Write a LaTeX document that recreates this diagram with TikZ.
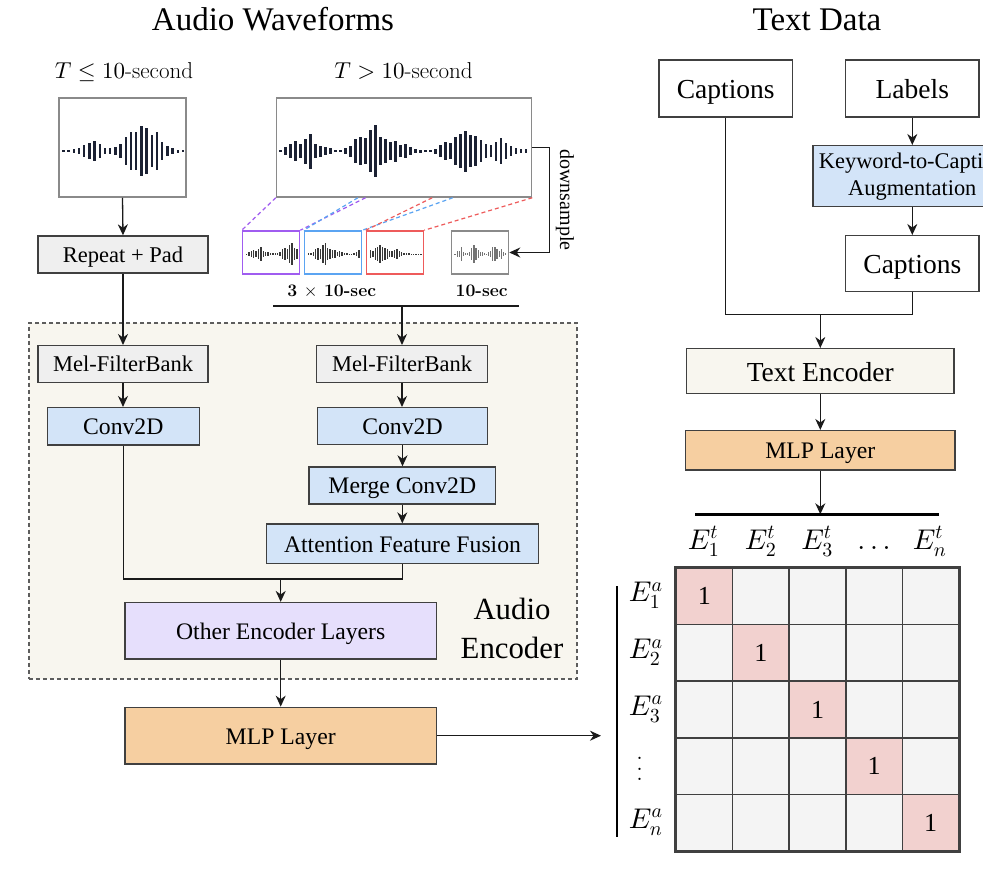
\documentclass[tikz,border=0pt]{standalone}
\usepackage{fontspec}
\newfontfamily\tms{Liberation Serif}
\DeclareFontShape{OML}{cmm}{m}{it}{<-> cmmi10}{}
\DeclareFontShape{OT1}{cmr}{m}{n}{<-> cmr10}{}
\DeclareFontShape{OMS}{cmsy}{m}{n}{<-> cmsy10}{}
\usetikzlibrary{arrows.meta,calc}
\definecolor{bord}{HTML}{404040}
\definecolor{grayfill}{HTML}{EFEFEF}
\definecolor{bluefill}{HTML}{D3E4F8}
\definecolor{lavfill}{HTML}{E6DFFC}
\definecolor{orfill}{HTML}{F6CFA1}
\definecolor{beige}{HTML}{F8F6EF}
\definecolor{wavec}{HTML}{1B2133}
\definecolor{wpurple}{HTML}{A05CF0}
\definecolor{wblue}{HTML}{5BA4F2}
\definecolor{wred}{HTML}{EE5B5B}
\definecolor{wgray}{HTML}{8A8A8A}
\definecolor{cellc}{HTML}{F4F4F4}
\definecolor{diagc}{HTML}{F2D1CF}
\definecolor{linec}{HTML}{1A1A1A}
\newcommand\wavebars[6]{\foreach \hh [count=\ii from 0] in {#6} {\fill ({#1+\ii*#3-#5/2},{#2-\hh*#4}) rectangle ({#1+\ii*#3+#5/2},{#2+\hh*#4});}}
\tikzset{
  bxbase/.style={draw=bord, line width=1.4pt, inner sep=0pt, align=center},
  bx/.style={bxbase, text height=21.3pt, text depth=4.7pt, font=\tms\fontsize{23.7}{28}\selectfont},
  gbx/.style={bxbase, fill=grayfill, text height=20.2pt, text depth=4.5pt, font=\tms\fontsize{22.5}{27}\selectfont},
  blbx/.style={bx, fill=bluefill},
  bigbx/.style={bxbase, text height=25.5pt, text depth=5pt, font=\tms\fontsize{27.5}{32}\selectfont},
  wbox/.style={draw=wgray, line width=1.5pt, inner sep=0pt},
  arr/.style={draw=linec, line width=1.3pt, -{Stealth[length=11pt,width=10pt,inset=3.5pt]}},
  ln/.style={draw=linec, line width=1.3pt},
  dl/.style={line width=1.2pt, dash pattern=on 4pt off 3pt},
  cell/.style={draw=bord, line width=1.5pt, fill=cellc, minimum size=56.6pt, inner sep=0pt, font=\tms\fontsize{26}{30}\selectfont},
  mlab/.style={font=\fontsize{28.5}{32}\selectfont, inner sep=0pt, anchor=base}
}
\begin{document}
\begin{tikzpicture}[x=1pt,y=-1pt]
\useasboundingbox (0,0) rectangle (983,875);
\clip (0,0) rectangle (983,875);
\fill[white] (0,0) rectangle (983,875);

% encoder background
\node[draw=bord!85, fill=beige, line width=1.1pt, dash pattern=on 4pt off 3pt, minimum width=548pt, minimum height=356pt, inner sep=0pt] (enc) at (303,501) {};

% titles
\node[font=\tms\fontsize{33}{38}\selectfont, anchor=base] (t1) at (273,30.7) {Audio Waveforms};
\node[font=\tms\fontsize{33}{38}\selectfont, anchor=base] (t2) at (817,30.7) {Text Data};
\node[font=\fontsize{23}{27}\selectfont, anchor=base] (tl) at (124,78) {$T\leq 10$-second};
\node[font=\fontsize{23}{27}\selectfont, anchor=base] (tr) at (403.5,78) {$T> 10$-second};

% waveform boxes
\node[wbox, minimum width=127pt, minimum height=99pt] (wl) at (122.5,147.5) {};
\node[wbox, minimum width=255pt, minimum height=99pt] (wb) at (404,147.5) {};
\begin{scope}[fill=wavec]
\wavebars{63.3}{151}{5.2}{1}{2.4}{1,1.2,2,3.3,6.3,7.7,10.3,7.3,3.3,2.7,4,6.7,14,18.7,19,25.3,23,16.3,19,8.7,5.3,3,1.5,1}
\wavebars{280.3}{151}{5.01}{1}{2.4}{1,3.7,7,10,7,12.5,17.5,7,5.5,3.8,3,1.2,1.2,2.7,5.5,11.7,13.7,13,20.7,25.8,14,11.7,8.7,10.5,5.8,7,3.8,2,1.5,1,1,2.5,5.7,8.7,8,13.7,17,20.5,16,15,11,7.2,6.2,9.5,12.8,7.8,4.7,2.8,2.2,1.7}
\end{scope}

% small windows
\node[wbox, draw=wpurple, minimum width=57pt, minimum height=43pt] (sp) at (271,252.5) {};
\node[wbox, draw=wblue, minimum width=57pt, minimum height=43pt] (sb) at (333,252.5) {};
\node[wbox, draw=wred, minimum width=57pt, minimum height=43pt] (sr) at (395,252.5) {};
\node[wbox, draw=wgray, minimum width=57pt, minimum height=43pt] (sg) at (480,252.5) {};
\begin{scope}[fill=black!78]
\wavebars{246.5}{254}{2.4}{0.42}{1.3}{1,3.7,7,10,7,12.5,17.5,7,5.5,3.8,3,1.2,1.2,2.7,5.5,11.7,13.7,13,20.7,25.8,14,11.7}
\wavebars{308.5}{254}{2.4}{0.42}{1.3}{1.2,2.7,5.5,11.7,13.7,13,20.7,25.8,14,11.7,8.7,10.5,5.8,7,3.8,2,1.5,1,1,2.5,5.7,8.7}
\wavebars{370.5}{254}{2.4}{0.42}{1.3}{8.7,8,13.7,17,20.5,16,15,11,7.2,6.2,9.5,12.8,7.8,4.7,2.8,2.2,1.7,1,1,1,1,1}
\end{scope}
\begin{scope}[fill=black!55]
\wavebars{455}{254}{2.1}{0.42}{1.2}{1,7,7,17.5,5.5,3,1.2,5.5,13.7,20.7,14,8.7,5.8,3.8,1.5,1,5.7,8,17,16,11,6.2,12.8,4.7,2.2}
\end{scope}

\draw[dl, wpurple] (wb.south west) -- (sp.north west);
\draw[dl, wpurple] ($(wb.south west)!0.35!(wb.south east)$) -- (sp.north east);
\draw[dl, wblue] ($(wb.south west)!0.32!(wb.south east)$) -- (sb.north west);
\draw[dl, wblue] ($(wb.south west)!0.69!(wb.south east)$) -- (sb.north east);
\draw[dl, wred] ($(wb.south west)!0.61!(wb.south east)$) -- (sr.north west);
\draw[dl, wred] (wb.south east) -- (sr.north east);

% downsample
\draw[arr] (wb.east) -- ++(17,0) |- (sg.east);
\node[rotate=-90, font=\tms\fontsize{20}{24}\selectfont] (ds) at (565,200) {downsample};

\node[font=\bfseries\fontsize{17.6}{21}\selectfont, anchor=base] (l3) at (331.7,296.7) {3 $\times$ 10-sec};
\node[font=\bfseries\fontsize{17.6}{21}\selectfont, anchor=base] (l1) at (481.7,296.7) {10-sec};
\coordinate (bl) at (273.3,306);
\coordinate (br) at (519.3,306);
\draw[ln] (bl) -- (br);

% left column
\node[gbx, minimum width=170pt, minimum height=37pt] (rp) at (123,254.5) {Repeat + Pad};
\node[gbx, minimum width=170pt, minimum height=36.6pt] (mel1) at (123,364) {Mel-FilterBank};
\node[blbx, minimum width=152pt, minimum height=37.3pt] (conv1) at (123.3,426.3) {Conv2D};
% right column
\node[gbx, minimum width=170.6pt, minimum height=36.6pt] (mel2) at (402,364) {Mel-FilterBank};
\node[blbx, minimum width=169.6pt, minimum height=37pt] (conv2) at (402.5,426.2) {Conv2D};
\node[blbx, minimum width=186.7pt, minimum height=37pt] (merge) at (402.3,485.5) {Merge Conv2D};
\node[blbx, minimum width=271.6pt, minimum height=39.3pt] (aff) at (402.5,543.7) {Attention Feature Fusion};
\node[bx, fill=lavfill, minimum width=311.2pt, minimum height=56.4pt] (oel) at (280.7,630.8) {Other Encoder Layers};
\node[bx, fill=orfill, minimum width=311.2pt, minimum height=56.7pt] (mlp1) at (280.7,735.7) {MLP Layer};
\node[font=\tms\fontsize{30.8}{39}\selectfont, align=center] (aenc) at (512,628.5) {Audio\\Encoder};

\draw[arr] (wl.south) -- (rp.north);
\draw[arr] (rp.south) -- (mel1.north);
\draw[arr] (mel1.south) -- (mel1.south |- conv1.north);
\draw[arr] (mel2.north |- bl) -- (mel2.north);
\draw[arr] (mel2.south) -- (mel2.south |- conv2.north);
\draw[arr] (conv2.south) -- (conv2.south |- merge.north);
\draw[arr] (merge.south) -- (merge.south |- aff.north);
\coordinate (mj) at (280.7,579);
\draw[ln] (conv1.south) |- (mj) -| (aff.south);
\draw[arr] (mj) -- (oel.north);
\draw[arr] (oel.south) -- (mlp1.north);
\coordinate (mend) at (601,735.7);
\draw[arr] (mlp1.east) -- (mend);

% text side
\node[bigbx, minimum width=133.3pt, minimum height=57pt] (cap1) at (725.7,88.5) {Captions};
\node[bigbx, minimum width=133.3pt, minimum height=57pt] (lab) at (912.3,88.5) {Labels};
\node[bxbase, fill=bluefill, font=\tms\fontsize{22.4}{27}\selectfont, minimum width=198.6pt, minimum height=61pt] (kw) at (912.3,176.2) {Keyword-to-Caption\\Augmentation};
\node[bigbx, minimum width=133.3pt, minimum height=56pt] (cap2) at (912.3,263.7) {Captions};
\node[bigbx, fill=beige, minimum width=267.3pt, minimum height=45pt] (te) at (820.3,371.2) {Text Encoder};
\node[bx, fill=orfill, minimum width=269.3pt, minimum height=39.3pt] (mlp2) at (820.3,450.3) {MLP Layer};

\draw[arr] (lab.south) -- (kw.north);
\draw[arr] (kw.south) -- (cap2.north);
\coordinate (tj) at (820.3,314.3);
\draw[ln] (cap1.south) |- (tj) -| (cap2.south);
\draw[arr] (tj) -- (te.north);
\draw[arr] (te.south) -- (mlp2.north);
\coordinate (tbl) at (695,514.3);
\coordinate (tbr) at (939,514.3);
\draw[arr] (mlp2.south) -- (mlp2.south |- tbl);
\draw[draw=black, line width=3pt] (tbl) -- (tbr);

% matrix
\foreach \r in {0,...,4} {
  \foreach \c in {0,...,4} {
    \ifnum\r=\c
      \node[cell, fill=diagc] (m\r\c) at ({704.3+\c*56.6},{596.3+\r*56.6}) {1};
    \else
      \node[cell] (m\r\c) at ({704.3+\c*56.6},{596.3+\r*56.6}) {};
    \fi
  }
}
\draw[draw=bord, line width=2pt] (m00.north west) rectangle (m44.south east);

\node[mlab] (et1) at (703.5,549) {$E^t_1$};
\node[mlab] (et2) at (760.5,549) {$E^t_2$};
\node[mlab] (et3) at (817,549) {$E^t_3$};
\node[mlab] (et4) at (874,549) {$\ldots$};
\node[mlab] (et5) at (929.5,549) {$E^t_n$};

\node[mlab] (ea1) at (645.8,601.8) {$E^a_1$};
\node[mlab] (ea2) at (645.8,658.4) {$E^a_2$};
\node[mlab] (ea3) at (645.8,715.0) {$E^a_3$};
\node[font=\fontsize{28}{10.8}\selectfont, align=center, inner sep=0pt] (ea4) at (639.5,769) {.\\.\\.};
\node[mlab] (ea5) at (645.8,828.2) {$E^a_n$};

\coordinate (vb1) at (617,586);
\coordinate (vb2) at (617,837);
\draw[draw=black, line width=2.5pt] (vb1) -- (vb2);
\end{tikzpicture}
\end{document}
